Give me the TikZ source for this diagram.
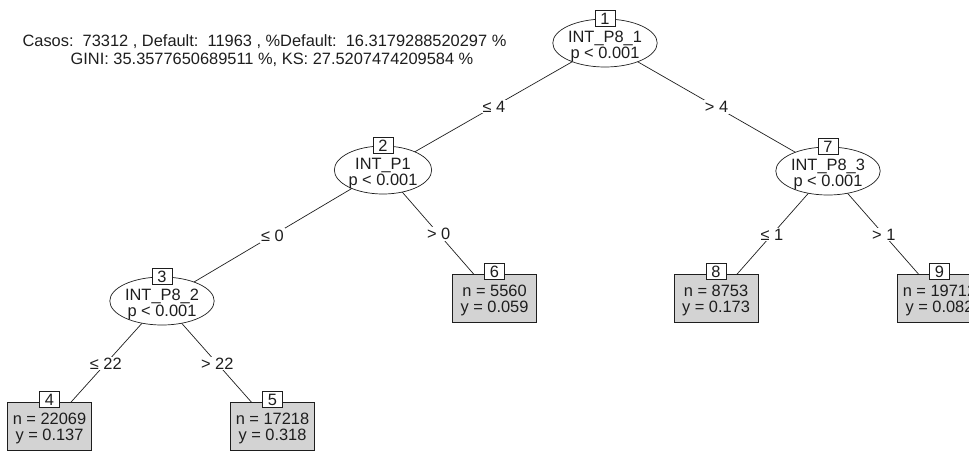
\documentclass[tikz,border=0pt]{standalone}
\usepackage{fontspec}
\setmainfont{Liberation Sans}
\usetikzlibrary{shapes.geometric,backgrounds}
\definecolor{leafgray}{HTML}{D3D3D3}
\definecolor{inkgray}{HTML}{1E1E1E}
% two centred lines, lowered without changing the reported box size
\newcommand{\twolines}[3]{\raisebox{-#1}[\height][\depth]{\begin{tabular}{@{}c@{}}#2\\[-1.5pt]#3\end{tabular}}}
\begin{document}
\begin{tikzpicture}[x=1pt,y=-1pt,
  every node/.style={font=\fontsize{16.4}{17.5}\selectfont, text=inkgray},
  splitnode/.style={ellipse, draw=inkgray, line width=0.7pt, fill=white,
    minimum width=92pt, minimum height=48pt, inner sep=0pt},
  leafnode/.style={rectangle, draw=inkgray, line width=0.7pt, fill=leafgray,
    minimum width=84pt, minimum height=48pt, inner sep=0pt},
  idbox/.style={rectangle, draw=inkgray, line width=0.7pt, fill=white,
    minimum width=20pt, minimum height=16pt, inner sep=0pt},
  branch/.style={draw=inkgray, line width=0.7pt},
  cond/.style={fill=white, inner sep=1.2pt}
]
\clip (0,0) rectangle (969,453);

% summary of the fitted tree
\node (info1) at (264.5,42) {Casos:~~73312 , Default:~~11963 , \%Default:~~16.3179288520297 \%};
\node (info2) at (272,60) {GINI: 35.3577650689511 \%, KS: 27.5207474209584 \%};

% inner (split) nodes
\node[splitnode] (n1) at (605,43)  {\twolines{4pt}{INT\_P8\_1}{p < 0.001}};
\node[splitnode] (n2) at (383,170) {\twolines{4pt}{INT\_P1}{p < 0.001}};
\node[splitnode] (n7) at (828,171) {\twolines{4pt}{INT\_P8\_3}{p < 0.001}};
\node[splitnode] (n3) at (162,301) {\twolines{4pt}{INT\_P8\_2}{p < 0.001}};

% terminal nodes
\node[leafnode] (n6) at (494.5,298) {\twolines{2.5pt}{n = 5560}{y = 0.059}};
\node[leafnode] (n8) at (716,298)   {\twolines{2.5pt}{n = 8753}{y = 0.173}};
\node[leafnode] (n9) at (939.5,298) {\twolines{2.5pt}{n = 19712}{y = 0.082}};
\node[leafnode] (n4) at (49.5,426)  {\twolines{2.5pt}{n = 22069}{y = 0.137}};
\node[leafnode] (n5) at (272.5,426) {\twolines{2.5pt}{n = 17218}{y = 0.318}};

% node numbers
\node[idbox] (id1) at (n1.north) {1};
\node[idbox] (id2) at (n2.north) {2};
\node[idbox] (id7) at (n7.north) {7};
\node[idbox] (id3) at (n3.north) {3};
\node[idbox] (id6) at ([yshift=2pt]n6.north) {6};
\node[idbox] (id8) at ([yshift=2pt]n8.north) {8};
\node[idbox] (id9) at ([yshift=2pt]n9.north) {9};
\node[idbox] (id4) at ([yshift=2pt]n4.north) {4};
\node[idbox] (id5) at ([yshift=2pt]n5.north) {5};

% branches with split conditions
\begin{pgfonlayer}{background}
  \path[branch] (n1.center) -- (n2.center) node[cond, midway] {≤ 4};
  \path[branch] (n1.center) -- (n7.center) node[cond, midway] {> 4};
  \path[branch] (n2.center) -- (n3.center) node[cond, midway] {≤ 0};
  \path[branch] (n2.center) -- (n6.center) node[cond, midway] {> 0};
  \path[branch] (n7.center) -- (n8.center) node[cond, midway] {≤ 1};
  \path[branch] (n7.center) -- (n9.center) node[cond, midway] {> 1};
  \path[branch] (n3.center) -- (n4.center) node[cond, midway] {≤ 22};
  \path[branch] (n3.center) -- (n5.center) node[cond, midway] {> 22};
\end{pgfonlayer}
\end{tikzpicture}
\end{document}
